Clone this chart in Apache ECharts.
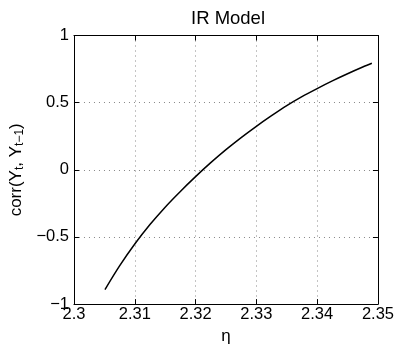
<!DOCTYPE html>
<html>
<head>
<meta charset="utf-8">
<script src="https://cdn.jsdelivr.net/npm/echarts@6/dist/echarts.min.js"></script>
<style>
html,body{margin:0;padding:0;background:#fff;}
#chart{width:397px;height:350px;}
</style>
</head>
<body>
<div id="chart"></div>
<script>
var etaValues = [2.3051, 2.3075, 2.31, 2.3125, 2.315, 2.3175, 2.32, 2.3225, 2.325, 2.3275, 2.33, 2.3325, 2.335, 2.3375, 2.34, 2.3425, 2.345, 2.3475, 2.349];
var corrValues = [-0.892, -0.716, -0.553, -0.408, -0.278, -0.161, -0.051, 0.053, 0.150, 0.240, 0.324, 0.403, 0.478, 0.545, 0.605, 0.662, 0.715, 0.765, 0.793];
var xTickLabels = ['2.3', '2.31', '2.32', '2.33', '2.34', '2.35'];
var yTickLabels = ['\u22121', '\u22120.5', '0', '0.5', '1'];

var FONT = "'Liberation Sans', Arial, Helvetica, sans-serif";
var data = etaValues.map(function (x, i) { return [x, corrValues[i]]; });

var chart = echarts.init(document.getElementById('chart'), null, {renderer: 'canvas'});
var gridDots = {show: true, lineStyle: {color: '#888', type: [1, 4], width: 1}};
var frameLine = {show: true, onZero: false, lineStyle: {color: '#000', width: 1}};
chart.setOption({
  animation: false,
  backgroundColor: '#fff',
  title: {
    text: 'IR Model',
    left: 223,
    textAlign: 'center',
    top: 4,
    textStyle: {fontFamily: FONT, fontSize: 18.5, fontWeight: 'normal', color: '#000'}
  },
  grid: {left: 68, right: 19, top: 35.5, bottom: 40.5, containLabel: false},
  xAxis: [{
    type: 'value', min: 2.3, max: 2.35, interval: 0.01,
    name: '\u03b7', nameLocation: 'middle', nameGap: 17,
    nameTextStyle: {fontFamily: FONT, fontSize: 17, color: '#000'},
    axisLine: frameLine,
    axisTick: {show: true, inside: true, length: 5, lineStyle: {color: '#000'}},
    axisLabel: {
      fontFamily: FONT, fontSize: 16.5, color: '#000', margin: 2,
      formatter: function (v) { return xTickLabels[Math.round((v - 2.3) / 0.01)]; }
    },
    splitLine: gridDots
  }, {
    type: 'value', min: 2.3, max: 2.35, interval: 0.01, position: 'top',
    axisLine: frameLine,
    axisTick: {show: true, inside: true, length: 5, lineStyle: {color: '#000'}},
    axisLabel: {show: false}, splitLine: {show: false}
  }],
  yAxis: [{
    type: 'value', min: -1, max: 1, interval: 0.5,
    name: '{a|corr(Y}{s|t}{a|, Y}{s|t\u22121}{a|)}',
    nameLocation: 'middle', nameGap: 37, nameRotate: 90,
    nameTextStyle: {
      fontFamily: FONT, fontSize: 17, color: '#000',
      rich: {
        a: {fontFamily: FONT, fontSize: 17, color: '#000'},
        s: {fontFamily: FONT, fontSize: 12, color: '#000', padding: [6, 0, 0, 0]}
      }
    },
    axisLine: frameLine,
    axisTick: {show: true, inside: true, length: 5, lineStyle: {color: '#000'}},
    axisLabel: {
      fontFamily: FONT, fontSize: 16.5, color: '#000', margin: 5,
      formatter: function (v) { return yTickLabels[Math.round((v + 1) / 0.5)]; }
    },
    splitLine: gridDots
  }, {
    type: 'value', min: -1, max: 1, interval: 0.5, position: 'right',
    axisLine: frameLine,
    axisTick: {show: true, inside: true, length: 5, lineStyle: {color: '#000'}},
    axisLabel: {show: false}, splitLine: {show: false}
  }],
  series: [{
    type: 'line',
    data: data,
    smooth: 0.3,
    showSymbol: false,
    lineStyle: {color: '#000', width: 1.5}
  }]
});
</script>
</body>
</html>
